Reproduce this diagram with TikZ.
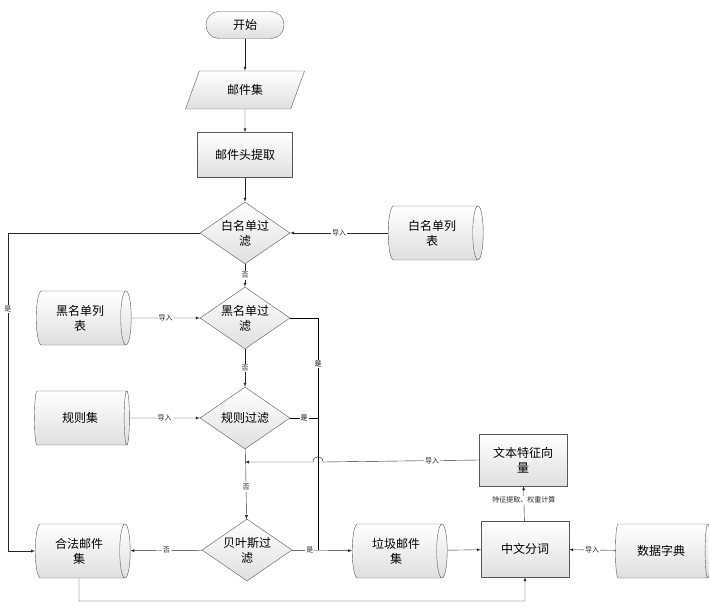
\documentclass[tikz,border=0pt]{standalone}
\usepackage{fontspec}
\setmainfont{Noto Sans CJK SC}
\usepackage{tikz}
\usetikzlibrary{positioning,calc}
\usetikzlibrary{arrows,shapes,shadings}

\tikzset{
  box/.style={draw=gray!70!black, top color=white, bottom color=gray!25, font=\fontsize{12}{15}\selectfont, align=center},
  startstop/.style={box, rounded corners=13pt, minimum width=78pt, minimum height=27pt},
  io/.style={box, trapezium, trapezium left angle=70, trapezium right angle=110, minimum width=80pt, minimum height=38pt},
  process/.style={box, minimum width=90pt, minimum height=48pt},
  decision/.style={box, diamond, inner sep=-8pt, minimum width=90pt, minimum height=62pt, text width=52pt},
  store/.style={box, cylinder, aspect=0.35, inner sep=2pt, minimum width=54pt, minimum height=95pt, text width=58pt},
  lbl/.style={font=\fontsize{7}{8}\selectfont, fill=white, inner sep=1pt},
  flow/.style={->, >=latex, gray!30!black}
}

\begin{document}
\begin{tikzpicture}[x=1pt, y=-1pt]
\useasboundingbox (0,0) rectangle (709,615);

\node[startstop] (start) at (245,25) {开始};
\node[io] (mails) at (245,90) {邮件集};
\node[process, minimum width=95pt, minimum height=45pt] (head) at (245,155) {邮件头提取};
\node[decision] (wf) at (245,233) {白名单过\\滤};
\node[store] (wlist) at (432,233) {白名单列\\表};
\node[decision] (bf) at (245,318) {黑名单过\\滤};
\node[store] (blist) at (80,318) {黑名单列\\表};
\node[decision] (rf) at (245,418) {规则过滤};
\node[store] (rules) at (80,418) {规则集};
\node[process, minimum width=88pt, minimum height=52pt] (vec) at (523,460) {文本特征向\\量};
\node[decision] (bayes) at (247,550) {贝叶斯过\\滤};
\node[store] (legal) at (79,551) {合法邮件\\集};
\node[store] (spam) at (396,551) {垃圾邮件\\集};
\node[process, minimum width=88pt, minimum height=56pt] (seg) at (525,549) {中文分词};
\node[store] (dict) at (661,551) {数据字典};

\coordinate (lft) at (8,233);
\coordinate (rgt) at (318,550);
\coordinate (mid) at (245,462);
\coordinate (low) at (79,601);

% main flow
\draw[flow] (start) -- (mails);
\draw[flow] (mails) -- (head);
\draw[flow] (head) -- (wf);
\draw[flow] (wf) -- node[lbl]{否} (bf);
\draw[flow] (bf) -- node[lbl]{否} (rf);
\draw[flow] (rf) -- node[lbl, pos=.55]{否} (bayes);
\draw[flow] (bayes) -- node[lbl]{否} (legal);
\draw[flow] (bayes) -- node[lbl, pos=.3]{是} (spam);
\draw[flow] (spam) -- (seg);

% imports
\draw[flow] (wlist) -- node[lbl]{导入} (wf);
\draw[flow] (blist) -- node[lbl]{导入} (bf);
\draw[flow] (rules) -- node[lbl]{导入} (rf);
\draw[flow] (dict) -- node[lbl]{导入} (seg);
\draw[flow] (seg) -- node[lbl, pos=.6]{特征提取、权重计算} (vec);
\draw[flow] (vec.west) -- node[lbl, pos=.3]{导入} (323,462) .. controls (323,455) and (313,455) .. (313,462) -- (mid);

% spam branches
\draw[flow] (wf.west) -- (lft) |- node[lbl, pos=.12]{是} (legal.west);
\draw (bf.east) -| node[lbl, pos=.6]{是} (rgt);
\draw (rf.east) -- node[lbl]{是} (318,418);
\draw[flow] (legal.south) -- (low) -| (seg.south);
\end{tikzpicture}
\end{document}
